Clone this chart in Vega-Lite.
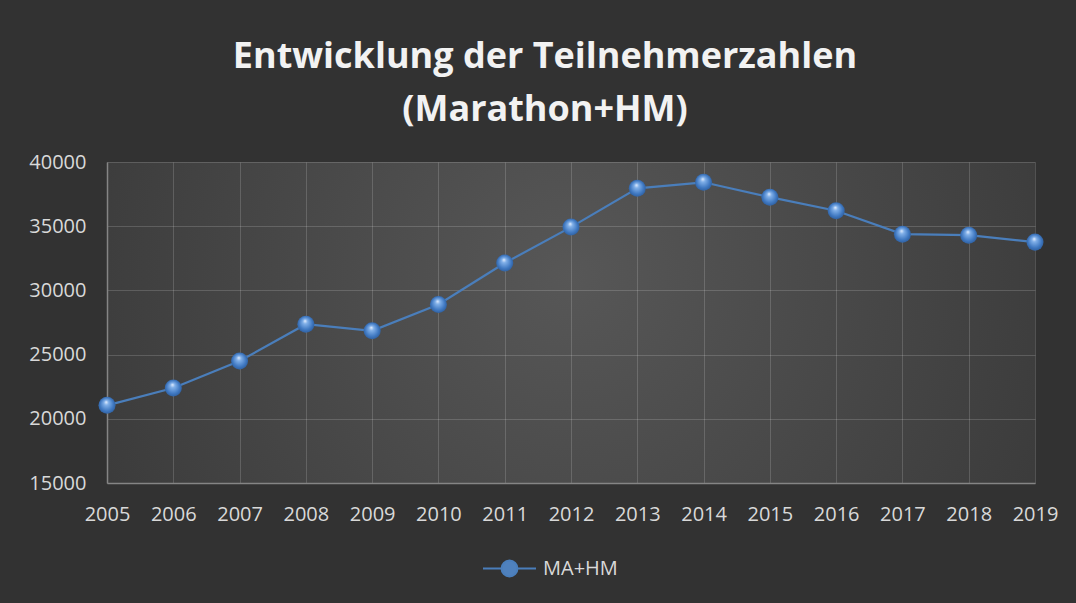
{
  "$schema": "https://vega.github.io/schema/vega-lite/v6.json",
  "width": 928,
  "height": 321,
  "autosize": {"type": "none"},
  "padding": {"left": 107, "top": 162, "right": 41, "bottom": 120},
  "background": "#323232",
  "config": {
    "view": {
      "stroke": null,
      "fill": {
        "gradient": "radial",
        "x1": 0.5, "y1": 0.45, "r1": 0,
        "x2": 0.5, "y2": 0.45, "r2": 0.72,
        "stops": [
          {"offset": 0, "color": "#575757"},
          {"offset": 1, "color": "#333333"}
        ]
      }
    },
    "font": "Open Sans"
  },
  "title": {
    "text": ["Entwicklung der Teilnehmerzahlen", "(Marathon+HM)"],
    "font": "Open Sans",
    "fontSize": 36,
    "fontWeight": "bold",
    "color": "#f2f2f2",
    "lineHeight": 53,
    "anchor": "middle",
    "dx": -26,
    "offset": 23
  },
  "data": {
    "values": [
      {"year": "2005", "participants": 21050, "series": "MA+HM"},
      {"year": "2006", "participants": 22400, "series": "MA+HM"},
      {"year": "2007", "participants": 24500, "series": "MA+HM"},
      {"year": "2008", "participants": 27370, "series": "MA+HM"},
      {"year": "2009", "participants": 26850, "series": "MA+HM"},
      {"year": "2010", "participants": 28900, "series": "MA+HM"},
      {"year": "2011", "participants": 32130, "series": "MA+HM"},
      {"year": "2012", "participants": 34930, "series": "MA+HM"},
      {"year": "2013", "participants": 37950, "series": "MA+HM"},
      {"year": "2014", "participants": 38420, "series": "MA+HM"},
      {"year": "2015", "participants": 37260, "series": "MA+HM"},
      {"year": "2016", "participants": 36200, "series": "MA+HM"},
      {"year": "2017", "participants": 34380, "series": "MA+HM"},
      {"year": "2018", "participants": 34300, "series": "MA+HM"},
      {"year": "2019", "participants": 33760, "series": "MA+HM"}
    ]
  },
  "encoding": {
    "x": {
      "field": "year",
      "type": "ordinal",
      "scale": {"type": "point", "padding": 0},
      "axis": {
        "title": null,
        "labelAngle": 0,
        "labelFont": "Open Sans",
        "labelFontSize": 20,
        "labelColor": "#d9d9d9",
        "labelPadding": 21,
        "ticks": false,
        "domainColor": "#858585",
        "domainWidth": 1.5,
        "grid": true,
        "gridColor": "#ffffff",
        "gridOpacity": 0.16,
        "gridWidth": 1
      }
    },
    "y": {
      "field": "participants",
      "type": "quantitative",
      "scale": {"domain": [15000, 40000], "nice": false, "zero": false},
      "axis": {
        "title": null,
        "values": [15000, 20000, 25000, 30000, 35000, 40000],
        "format": "d",
        "labelFont": "Open Sans",
        "labelFontSize": 20,
        "labelColor": "#d9d9d9",
        "labelPadding": 21,
        "ticks": false,
        "domainColor": "#858585",
        "domainWidth": 1.5,
        "grid": true,
        "gridColor": "#ffffff",
        "gridOpacity": 0.16,
        "gridWidth": 1
      }
    }
  },
  "layer": [
    {
      "mark": {"type": "line", "strokeWidth": 2.2},
      "encoding": {
        "color": {
          "field": "series",
          "type": "nominal",
          "scale": {"range": ["#4a7ebb"]},
          "legend": {
            "title": null,
            "orient": "none",
            "legendX": 375,
            "legendY": 379,
            "symbolType": "M-1,0L-0.3,0M0.3,0L1,0M0.3,0A0.3,0.3,0,1,1,-0.3,0A0.3,0.3,0,1,1,0.3,0Z",
            "symbolSize": 2809,
            "symbolFillColor": "#4f81bd",
            "symbolStrokeColor": "#4a7ebb",
            "symbolStrokeWidth": 2,
            "labelFont": "Open Sans",
            "labelFontSize": 20,
            "labelColor": "#d9d9d9",
            "labelOffset": 6
          }
        }
      }
    },
    {
      "mark": {
        "type": "point",
        "shape": "circle",
        "filled": true,
        "size": 290,
        "opacity": 1,
        "fill": {
          "gradient": "radial",
          "x1": 0.45, "y1": 0.3, "r1": 0,
          "x2": 0.5, "y2": 0.5, "r2": 0.55,
          "stops": [
            {"offset": 0, "color": "#e8f1ff"},
            {"offset": 0.25, "color": "#80afe8"},
            {"offset": 0.7, "color": "#4079c2"},
            {"offset": 1, "color": "#2b5a98"}
          ]
        },
        "stroke": null
      }
    }
  ]
}
